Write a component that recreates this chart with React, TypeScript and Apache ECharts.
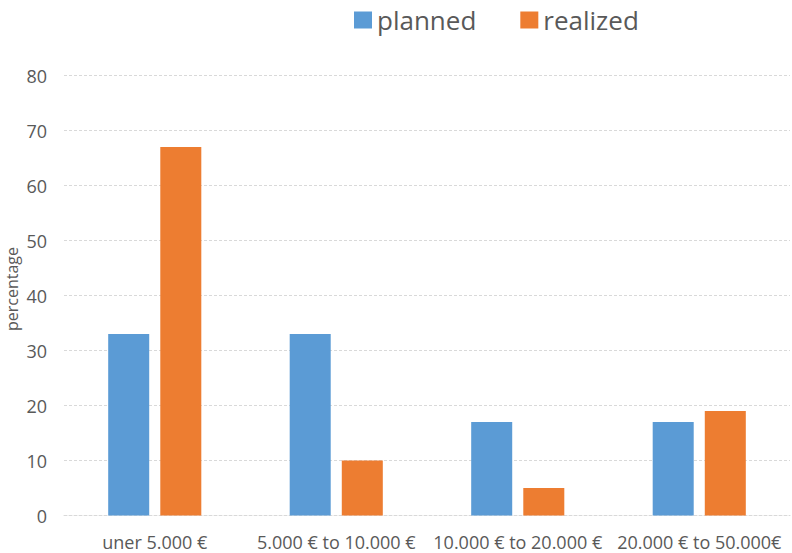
import React, { useEffect, useRef } from "react";
import * as echarts from "echarts";

const categories = ["uner 5.000 €", "5.000 € to 10.000 €", "10.000 € to 20.000 €", "20.000 € to 50.000€"];
const planned = [33, 33, 17, 17];
const realized = [67, 10, 5, 19];
const yTitle = "percentage";

const FONT = "'Open Sans', 'Noto Sans', sans-serif";
const TEXT = "#595959";
const GRID = "#d9d9d9";

export default function App() {
  const ref = useRef<HTMLDivElement>(null);

  useEffect(() => {
    if (!ref.current) return;
    const chart = echarts.init(ref.current, undefined, { renderer: "svg" });
    chart.setOption({
      animation: false,
      backgroundColor: "#ffffff",
      textStyle: { fontFamily: FONT },
      legend: {
        left: 349,
        top: 2,
        itemWidth: 18,
        itemHeight: 17,
        itemGap: 44,
        icon: "rect",
        textStyle: { fontSize: 26, color: TEXT, fontFamily: FONT },
        data: ["planned", "realized"],
      },
      grid: { left: 64, right: 2, top: 75.5, bottom: 37.5, containLabel: false, outerBoundsMode: "none" },
      graphic: [
        {
          type: "text",
          x: 12,
          y: 289,
          rotation: Math.PI / 2,
          style: {
            text: yTitle,
            fill: TEXT,
            font: `16px ${FONT}`,
            align: "center",
            verticalAlign: "middle",
          },
        },
      ],
      xAxis: {
        type: "category",
        data: categories,
        axisLine: { show: true, lineStyle: { color: GRID, type: [3, 2] } },
        axisTick: { show: false },
        axisLabel: { color: TEXT, fontSize: 18, margin: 17, fontFamily: FONT, interval: 0 },
      },
      yAxis: {
        type: "value",
        min: 0,
        max: 80,
        interval: 10,
        axisLine: { show: false },
        axisTick: { show: false },
        axisLabel: { color: TEXT, fontSize: 18, margin: 17, fontFamily: FONT },
        splitLine: { lineStyle: { color: GRID, type: [3, 2], width: 1 } },
      },
      series: [
        {
          name: "planned",
          type: "bar",
          data: planned,
          barWidth: "22.6%",
          barGap: "27%",
          itemStyle: { color: "#5B9BD5" },
        },
        {
          name: "realized",
          type: "bar",
          data: realized,
          barWidth: "22.6%",
          itemStyle: { color: "#ED7D31" },
        },
      ],
    });
    return () => chart.dispose();
  }, []);

  return <div ref={ref} style={{ width: 792, height: 553, position: "fixed", left: 0, top: 0 }} />;
}
